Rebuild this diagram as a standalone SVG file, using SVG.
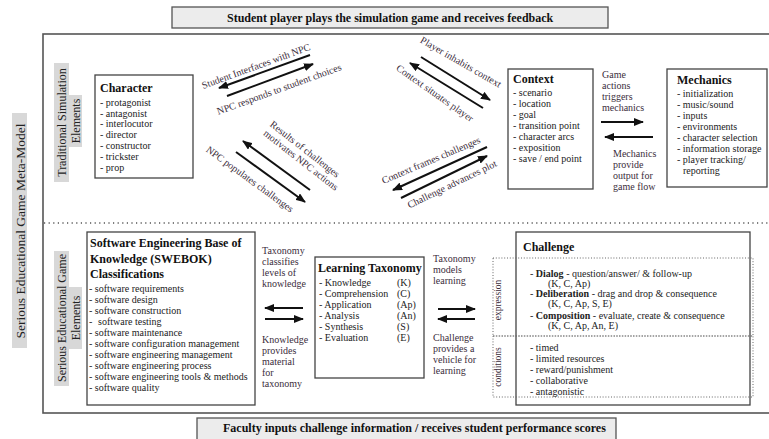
<svg xmlns="http://www.w3.org/2000/svg" width="769" height="439" viewBox="0 0 769 439">
<defs>
<marker id="ah" markerWidth="10" markerHeight="8" refX="9" refY="4" orient="auto" markerUnits="userSpaceOnUse">
<path d="M0,0 L10,4 L0,8 z" fill="#111"/>
</marker>
<style>
.box{fill:#fff;stroke:#444;stroke-width:1.3}
.ban{fill:#ececec;stroke:#555;stroke-width:1.3}
.hl{fill:#d8d8d8}
.t{font-family:"Liberation Serif","Times New Roman",serif;font-size:10px;fill:#222}
.b{font-weight:bold}
.ti{font-family:"Liberation Serif","Times New Roman",serif;font-size:12px;font-weight:bold;fill:#111}
.lb{font-family:"Liberation Serif","Times New Roman",serif;font-size:10px;fill:#3b2d3b}
.vl{font-family:"Liberation Serif","Times New Roman",serif;font-size:12px;fill:#222;text-anchor:middle}
.arr{stroke:#111;stroke-width:2;fill:none;marker-end:url(#ah)}
.dot{stroke:#555;stroke-width:1.6;stroke-dasharray:1.2 3.4;fill:none}
.dbox{stroke:#666;stroke-width:1;stroke-dasharray:1 1.8;fill:none}
.m{text-anchor:middle}
</style>
</defs>
<rect width="769" height="439" fill="#fff"/>

<g id="top-banner">
<rect class="ban" x="172" y="7" width="436" height="21"/>
<text class="ti" x="227" y="22">Student player plays the simulation game and receives feedback</text>
</g>

<g id="meta-model">
<rect x="43" y="34" width="740" height="379" fill="none" stroke="#555" stroke-width="1.6"/>
<line class="dot" x1="44" y1="223" x2="769" y2="223"/>
</g>

<g id="side-labels">
<rect class="hl" x="12" y="113" width="15" height="235"/>
<text class="vl" style="font-size:13.5px" transform="translate(20,231) rotate(-90)" y="4.5">Serious Educational Game Meta-Model</text>
<rect class="hl" x="54" y="63" width="15" height="119"/>
<text class="vl" transform="translate(61.5,122.5) rotate(-90)" y="4">Traditional Simulation</text>
<rect class="hl" x="69" y="95" width="13" height="52"/>
<text class="vl" transform="translate(75.5,121) rotate(-90)" y="4">Elements</text>
<rect class="hl" x="54" y="251" width="15" height="135"/>
<text class="vl" transform="translate(61.5,318) rotate(-90)" y="4">Serious Educational Game</text>
<rect class="hl" x="69" y="287" width="13" height="62"/>
<text class="vl" transform="translate(75.5,318) rotate(-90)" y="4">Elements</text>
</g>

<g id="character">
<rect class="box" x="95" y="75" width="98" height="103"/>
<text class="ti" x="100" y="92">Character</text>
<text class="t" x="100" y="105.8">- protagonist</text>
<text class="t" x="100" y="116.6">- antagonist</text>
<text class="t" x="100" y="127.4">- interlocutor</text>
<text class="t" x="100" y="138.2">- director</text>
<text class="t" x="100" y="149">- constructor</text>
<text class="t" x="100" y="159.8">- trickster</text>
<text class="t" x="100" y="170.6">- prop</text>
</g>

<g id="context">
<rect class="box" x="508" y="69" width="85" height="120"/>
<text class="ti" x="513" y="83">Context</text>
<text class="t" x="513" y="95.5">- scenario</text>
<text class="t" x="513" y="106.5">- location</text>
<text class="t" x="513" y="117.5">- goal</text>
<text class="t" x="513" y="128.5">- transition point</text>
<text class="t" x="513" y="139.5">- character arcs</text>
<text class="t" x="513" y="150.5">- exposition</text>
<text class="t" x="513" y="161.5">- save / end point</text>
</g>

<g id="mechanics">
<rect class="box" x="667" y="69" width="100" height="118"/>
<text class="ti" x="677" y="83.5">Mechanics</text>
<text class="t" x="677" y="96.5">- initialization</text>
<text class="t" x="677" y="107.5">- music/sound</text>
<text class="t" x="677" y="118.5">- inputs</text>
<text class="t" x="677" y="129.5">- environments</text>
<text class="t" x="677" y="140.5">- character selection</text>
<text class="t" x="677" y="151.5">- information storage</text>
<text class="t" x="677" y="162.5">- player tracking/</text>
<text class="t" x="683" y="173.5">reporting</text>
</g>

<g id="swebok">
<rect class="box" x="87" y="232" width="168" height="173"/>
<text class="ti" x="90" y="247">Software Engineering Base of</text>
<text class="ti" x="90" y="263">Knowledge (SWEBOK)</text>
<text class="ti" x="90" y="278">Classifications</text>
<text class="t" x="89" y="291.5">- software requirements</text>
<text class="t" x="89" y="302.5">- software design</text>
<text class="t" x="89" y="313.5">- software construction</text>
<text class="t" x="89" y="324.5">-</text><text class="t" x="98" y="324.5">software testing</text>
<text class="t" x="89" y="335.5">- software maintenance</text>
<text class="t" x="89" y="346.5">- software configuration management</text>
<text class="t" x="89" y="357.5">- software engineering management</text>
<text class="t" x="89" y="368.5">- software engineering process</text>
<text class="t" x="89" y="379.5">- software engineering tools &amp; methods</text>
<text class="t" x="89" y="390.5">- software quality</text>
</g>

<g id="taxonomy">
<rect class="box" x="315" y="257" width="109" height="121"/>
<text class="ti" x="318" y="272">Learning Taxonomy</text>
<text class="t" x="319" y="285.5">- Knowledge</text><text class="t" x="397" y="285.5">(K)</text>
<text class="t" x="319" y="296.5">- Comprehension</text><text class="t" x="397" y="296.5">(C)</text>
<text class="t" x="319" y="307.5">- Application</text><text class="t" x="397" y="307.5">(Ap)</text>
<text class="t" x="319" y="318.5">- Analysis</text><text class="t" x="397" y="318.5">(An)</text>
<text class="t" x="319" y="329.5">- Synthesis</text><text class="t" x="397" y="329.5">(S)</text>
<text class="t" x="319" y="340.5">- Evaluation</text><text class="t" x="397" y="340.5">(E)</text>
</g>

<g id="challenge">
<rect class="box" x="516" y="232" width="234" height="173"/>
<rect class="dbox" x="493" y="258" width="260" height="78"/>
<rect class="dbox" x="493" y="336" width="260" height="61"/>
<text class="lb m" style="font-size:9.5px" transform="translate(497,300) rotate(-90)" y="3.5">expression</text>
<text class="lb m" style="font-size:9.5px" transform="translate(497,367) rotate(-90)" y="3.5">conditions</text>
<text class="ti" x="523" y="251">Challenge</text>
<text class="t" x="530" y="276.5">- <tspan class="b">Dialog</tspan> - question/answer/ &amp; follow-up</text>
<text class="t" x="548" y="286.5">(K, C, Ap)</text>
<text class="t" x="530" y="296.5">- <tspan class="b">Deliberation</tspan> - drag and drop  &amp; consequence</text>
<text class="t" x="548" y="306.5">(K, C, Ap, S, E)</text>
<text class="t" x="530" y="318.5">- <tspan class="b">Composition</tspan> - evaluate, create &amp; consequence</text>
<text class="t" x="548" y="328.5">(K, C, Ap, An, E)</text>
<text class="t" x="530" y="350.5">- timed</text>
<text class="t" x="530" y="361.5">- limited resources</text>
<text class="t" x="530" y="372.5">- reward/punishment</text>
<text class="t" x="530" y="383.5">- collaborative</text>
<text class="t" x="530" y="394.5">- antagonistic</text>
</g>

<g id="bottom-banner">
<rect class="ban" x="197" y="418" width="419" height="26"/>
<text class="ti" x="223" y="432">Faculty inputs challenge information / receives student performance scores</text>
</g>

<g id="connectors">
<line class="arr" x1="310" y1="55" x2="219" y2="88"/>
<line class="arr" x1="227" y1="96" x2="313" y2="64"/>
<line class="arr" x1="421" y1="57" x2="490" y2="100"/>
<line class="arr" x1="483" y1="108" x2="410" y2="63"/>
<line class="arr" x1="310" y1="190" x2="243" y2="141"/>
<line class="arr" x1="236" y1="152" x2="305" y2="202"/>
<line class="arr" x1="487" y1="147" x2="393" y2="190"/>
<line class="arr" x1="401" y1="198" x2="487" y2="156"/>
<line class="arr" x1="601" y1="122" x2="643" y2="122"/>
<line class="arr" x1="653" y1="137" x2="605" y2="137"/>
<line class="arr" x1="303" y1="308" x2="265" y2="308"/>
<line class="arr" x1="265" y1="319" x2="303" y2="319"/>
<line class="arr" x1="438" y1="309" x2="475" y2="309"/>
<line class="arr" x1="475" y1="319" x2="438" y2="319"/>

<text class="lb m" transform="translate(256,66) rotate(-20)" y="3.5">Student Interfaces with NPC</text>
<text class="lb m" transform="translate(279,89) rotate(-20)" y="3.5">NPC responds to student choices</text>
<text class="lb m" transform="translate(461,62) rotate(30)" y="3.5">Player inhabits context</text>
<text class="lb m" transform="translate(435,93) rotate(35)" y="3.5">Context situates player</text>
<text class="lb m" transform="translate(305,149) rotate(38)" y="3.5">Results of challenges</text>
<text class="lb m" transform="translate(301,160) rotate(38)" y="3.5">motivates  NPC actions</text>
<text class="lb m" transform="translate(250,179) rotate(36)" y="3.5">NPC populates challenges</text>
<text class="lb m" transform="translate(431,160) rotate(-23)" y="3.5">Context frames challenges</text>
<text class="lb m" transform="translate(452,184) rotate(-26)" y="3.5">Challenge advances plot</text>

<text class="lb" x="602" y="77.5">Game</text>
<text class="lb" x="602" y="88.5">actions</text>
<text class="lb" x="602" y="99.5">triggers</text>
<text class="lb" x="602" y="110.5">mechanics</text>
<text class="lb" x="613" y="156.5">Mechanics</text>
<text class="lb" x="613" y="167.5">provide</text>
<text class="lb" x="613" y="178.5">output for</text>
<text class="lb" x="613" y="189.5">game flow</text>

<text class="lb" x="262" y="253.5">Taxonomy</text>
<text class="lb" x="262" y="264.5">classifies</text>
<text class="lb" x="262" y="275.5">levels of</text>
<text class="lb" x="262" y="286.5">knowledge</text>
<text class="lb" x="262" y="342.5">Knowledge</text>
<text class="lb" x="262" y="353.5">provides</text>
<text class="lb" x="262" y="364.5">material</text>
<text class="lb" x="262" y="375.5">for</text>
<text class="lb" x="262" y="386.5">taxonomy</text>

<text class="lb" x="433" y="261.5">Taxonomy</text>
<text class="lb" x="433" y="272.5">models</text>
<text class="lb" x="433" y="283.5">learning</text>
<text class="lb" x="433" y="340.5">Challenge</text>
<text class="lb" x="433" y="351.5">provides a</text>
<text class="lb" x="433" y="362.5">vehicle for</text>
<text class="lb" x="433" y="373.5">learning</text>
</g>
</svg>
